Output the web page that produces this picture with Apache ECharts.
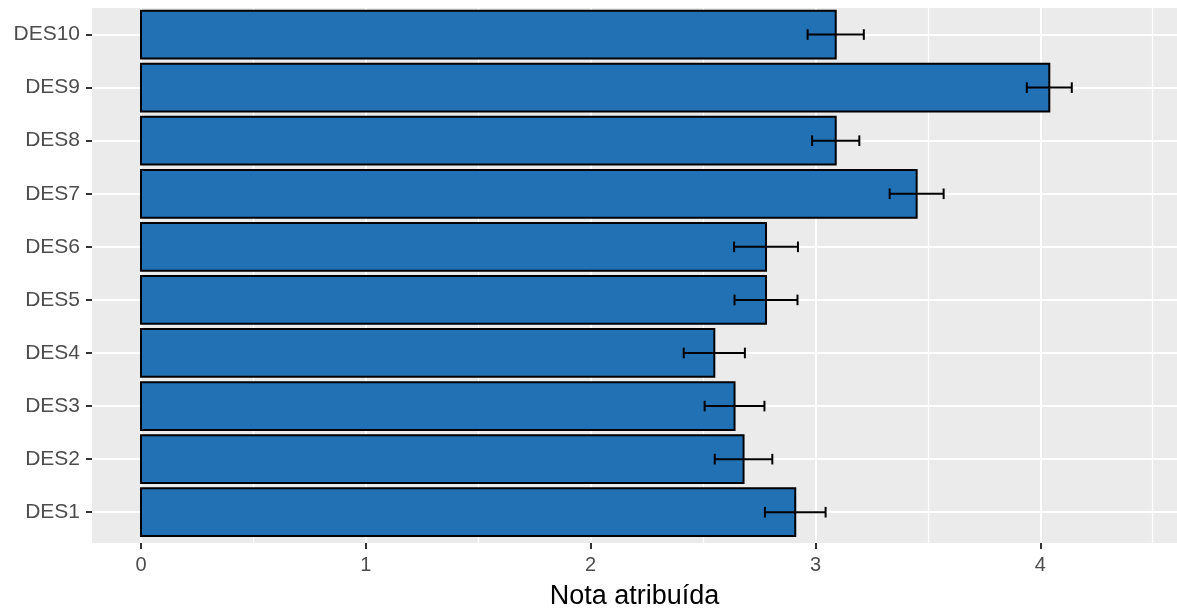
<!DOCTYPE html>
<html>
<head>
<meta charset="utf-8">
<script src="https://cdn.jsdelivr.net/npm/echarts@6/dist/echarts.min.js"></script>
<style>
  html, body { margin: 0; padding: 0; background: #ffffff; }
  #chart { width: 1177px; height: 608px; }
</style>
</head>
<body>
<div id="chart"></div>
<script>
// Mean score per item with its standard error
const categories = ['DES1', 'DES2', 'DES3', 'DES4', 'DES5', 'DES6', 'DES7', 'DES8', 'DES9', 'DES10'];
const means = [2.91, 2.68, 2.64, 2.55, 2.78, 2.78, 3.45, 3.09, 4.04, 3.09];
const stdErrors = [0.135, 0.128, 0.133, 0.136, 0.140, 0.142, 0.120, 0.105, 0.100, 0.125];

// Axis ticks
const xMajorTicks = [0, 1, 2, 3, 4];
const xMinorTicks = [0.5, 1.5, 2.5, 3.5, 4.5];
const xTitle = 'Nota atribuída';

const FONT = "'Liberation Sans', Arial, Helvetica, sans-serif";
const yTickIndex = categories.map((_, i) => i);
const rows = categories.map((_, i) => [means[i], i, stdErrors[i]]);

const chart = echarts.init(document.getElementById('chart'), null, { renderer: 'canvas' });

chart.setOption({
  animation: false,
  backgroundColor: '#ffffff',
  grid: {
    left: 92, right: 0, top: 8, bottom: 65,
    outerBoundsMode: 'none',
    show: true, backgroundColor: '#EBEBEB', borderWidth: 0
  },
  xAxis: [
    {
      type: 'value', min: -0.218, max: 4.608,
      axisLine: { show: false, onZero: false },
      axisTick: { show: true, length: 6, customValues: xMajorTicks, lineStyle: { color: '#333333', width: 2 } },
      axisLabel: { customValues: xMajorTicks, color: '#4D4D4D', fontSize: 20, fontFamily: FONT, margin: 12 },
      splitLine: { show: true, lineStyle: { color: '#ffffff', width: 2 } },
      name: xTitle, nameLocation: 'middle', nameGap: 40,
      nameTextStyle: { color: '#000000', fontSize: 27, fontFamily: FONT }
    },
    {
      type: 'value', min: -0.218, max: 4.608,
      axisLine: { show: false, onZero: false },
      axisTick: { show: false, customValues: xMinorTicks },
      axisLabel: { show: false },
      splitLine: { show: true, lineStyle: { color: '#ffffff', width: 1.2 } }
    }
  ],
  yAxis: {
    type: 'value', min: -0.58, max: 9.5,
    axisLine: { show: false, onZero: false },
    axisTick: { show: true, length: 6, customValues: yTickIndex, lineStyle: { color: '#333333', width: 2 } },
    axisLabel: {
      customValues: yTickIndex,
      formatter: v => categories[Math.round(v)],
      color: '#4D4D4D', fontSize: 21, fontFamily: FONT, margin: 12,
      padding: [3, 0, 0, 0]
    },
    splitLine: { show: true, lineStyle: { color: '#ffffff', width: 2 } }
  },
  series: [
    {
      type: 'custom',
      xAxisIndex: 0, yAxisIndex: 0,
      encode: { x: 0, y: 1 },
      data: rows,
      renderItem: function (params, api) {
        const i = api.value(1);
        const p0 = api.coord([0, i]);
        const p1 = api.coord([api.value(0), i]);
        const h = api.size([0, 0.9])[1];
        return {
          type: 'rect',
          shape: { x: p0[0], y: p0[1] - h / 2, width: p1[0] - p0[0], height: h },
          style: { fill: '#2271B5', stroke: '#000000', lineWidth: 2 }
        };
      }
    },
    {
      type: 'custom',
      xAxisIndex: 0, yAxisIndex: 0,
      encode: { x: 0, y: 1 },
      data: rows,
      z: 3,
      renderItem: function (params, api) {
        const i = api.value(1);
        const m = api.value(0);
        const se = api.value(2);
        const lo = api.coord([m - se, i]);
        const hi = api.coord([m + se, i]);
        const cap = api.size([0, 0.2])[1] / 2;
        const s = { stroke: '#000000', lineWidth: 2 };
        return {
          type: 'group',
          children: [
            { type: 'line', shape: { x1: lo[0], y1: lo[1], x2: hi[0], y2: hi[1] }, style: s },
            { type: 'line', shape: { x1: lo[0], y1: lo[1] - cap, x2: lo[0], y2: lo[1] + cap }, style: s },
            { type: 'line', shape: { x1: hi[0], y1: hi[1] - cap, x2: hi[0], y2: hi[1] + cap }, style: s }
          ]
        };
      }
    }
  ]
});
</script>
</body>
</html>
